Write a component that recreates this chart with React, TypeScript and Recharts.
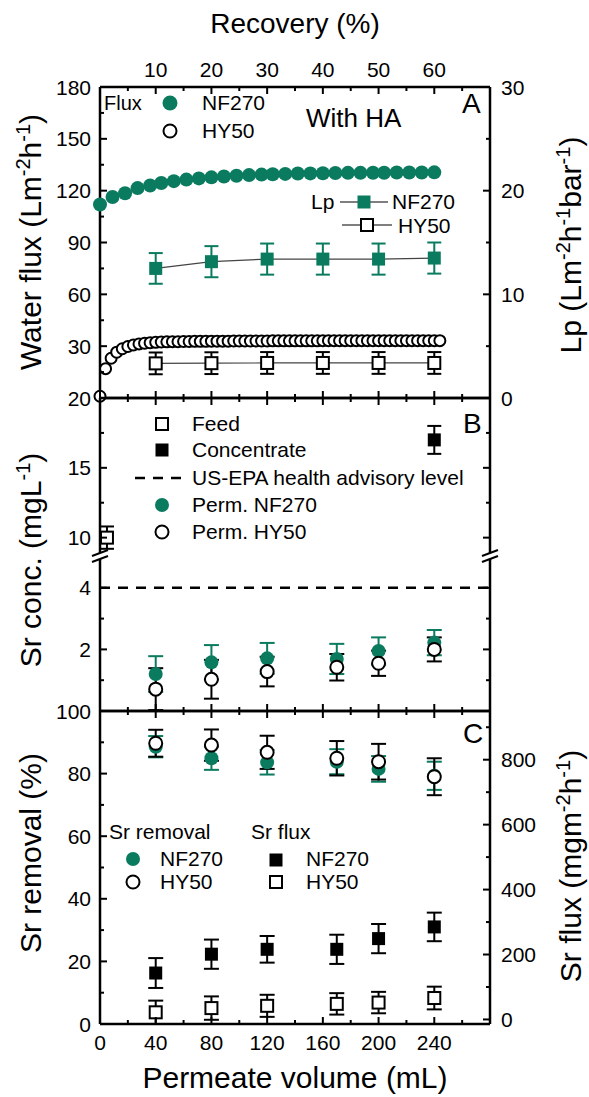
import React from "react";
import { ComposedChart, Scatter, Line, XAxis, YAxis, ErrorBar, ReferenceLine } from "recharts";

const W = 589;
const H = 1097;
const PL = 100;
const PR = 490;
const AX_H = 10;
const Y_W = 60;
const GREEN = "#0b7b60";
const FONT = "'Liberation Sans', Arial, Helvetica, sans-serif";
const AXIS = { stroke: "#000", strokeWidth: 2.5 };

// ---- panel A: water flux vs permeate volume ----
const fluxNfVol = [0, 9, 18, 27, 36, 44, 53, 62, 71, 80, 89, 98, 107, 116, 124, 133, 142, 151, 160, 169, 178, 187, 196, 204, 213, 222, 231, 240];
const fluxNf = [112, 116.3, 118.5, 121.5, 123, 124.4, 125.5, 126.4, 127.1, 127.7, 128.2, 128.6, 129, 129.3, 129.5, 129.7, 129.9, 130, 130.1, 130.2, 130.3, 130.3, 130.4, 130.4, 130.5, 130.5, 130.5, 130.6];
const fluxHyVol = [0, 4, 8, 12, 16, 20, 24, 28, 32, 36, 40, 44, 48, 52, 56, 60, 64, 68, 72, 76, 80, 84, 88, 92, 96, 100, 104, 108, 112, 116, 120, 124, 128, 132, 136, 140, 144, 148, 152, 156, 160, 164, 168, 172, 176, 180, 184, 188, 192, 196, 200, 204, 208, 212, 216, 220, 224, 228, 232, 236, 240, 244];
const fluxHy = [1, 17, 23, 26.5, 28.5, 29.8, 30.7, 31.3, 31.7, 32, 32.2, 32.4, 32.5, 32.6, 32.6, 32.7, 32.7, 32.8, 32.8, 32.8, 32.9, 32.9, 32.9, 32.9, 33, 33, 33, 33, 33, 33, 33, 33.1, 33.1, 33.1, 33.1, 33.1, 33.1, 33.1, 33.1, 33.1, 33.2, 33.2, 33.2, 33.2, 33.2, 33.2, 33.2, 33.2, 33.2, 33.2, 33.2, 33.2, 33.2, 33.2, 33.2, 33.2, 33.2, 33.2, 33.2, 33.2, 33.2, 33.2];
const lpVol = [40, 80, 120, 160, 200, 240];
const lpNf = [12.5, 13.15, 13.4, 13.4, 13.4, 13.5];
const lpNfErr = [1.48, 1.5, 1.5, 1.5, 1.5, 1.5];
const lpHy = [3.34, 3.36, 3.38, 3.38, 3.38, 3.38];
const lpHyErr = [1.05, 1.05, 1.05, 1.05, 1.05, 1.05];

// ---- panel B: Sr concentration ----
const feedVol = [5];
const feedConc = [10.0];
const feedErr = [0.8];
const concVol = [240];
const concConc = [17.0];
const concErr = [1.0];
const epaLevel = 4;
const sampleVol = [40, 80, 120, 170, 200, 240];
const permNf = [1.2, 1.58, 1.71, 1.69, 1.95, 2.22];
const permNfErr = [0.58, 0.56, 0.5, 0.49, 0.44, 0.41];
const permHy = [0.71, 1.03, 1.28, 1.42, 1.55, 2.0];
const permHyErr = [0.68, 0.63, 0.48, 0.43, 0.41, 0.39];

// ---- panel C: Sr removal and Sr flux ----
const removalNf = [88.6, 84.9, 83.6, 83.8, 81.5, 79.3];
const removalNfErr = [3.4, 3.7, 3.9, 4, 4.1, 4.5];
const removalHy = [89.7, 89.1, 86.8, 84.9, 83.8, 79.0];
const removalHyErr = [4.3, 5, 5.3, 5.5, 5.7, 5.9];
const srFluxNf = [143, 201, 216, 216, 249, 285];
const srFluxNfErr = [46, 45, 41, 45, 45, 44];
const srFluxHy = [22, 35, 42, 48, 52, 66];
const srFluxHyErr = [36, 36, 34, 33, 33, 35];

// ---- ticks ----
const volTicks = [0, 20, 40, 60, 80, 100, 120, 140, 160, 180, 200, 220, 240, 260];
const volMajors = [0, 40, 80, 120, 160, 200, 240];
// recovery (%) labels on the top axis, placed at the matching permeate volume
const recVol = [40, 80, 120, 160, 200, 240];
const recLabels = ["10", "20", "30", "40", "50", "60"];
const fluxTicks = [0, 15, 30, 45, 60, 75, 90, 105, 120, 135, 150, 165, 180];
const fluxLabels = [30, 60, 90, 120, 150, 180];
const lpTicks = [0, 5, 10, 15, 20, 25, 30];
const lpLabels = [0, 10, 20, 30];
const concHiTicks = [10, 12.5, 15, 17.5, 20];
const concHiLabels = [10, 15, 20];
const concLoTicks = [1, 2, 3, 4];
const concLoLabels = [2, 4];
const remTicks = [0, 10, 20, 30, 40, 50, 60, 70, 80, 90, 100];
const remLabels = [0, 20, 40, 60, 80, 100];
const srTicks = [0, 100, 200, 300, 400, 500, 600, 700, 800, 900];
const srLabels = [0, 200, 400, 600, 800];

const rows = (xs: number[], ys: number[], errs?: number[]) =>
  xs.map((x, i) => ({ x, y: ys[i], err: errs ? errs[i] : 0 }));

const margins = (top: number, bottom: number) => ({
  top: top - AX_H,
  bottom: H - bottom - AX_H,
  left: PL - Y_W,
  right: W - PR - Y_W,
});

type Side = "left" | "right" | "top" | "bottom";
function tickOf(side: Side, majors: number[], labels: number[] = [], texts?: string[]) {
  return (p: any) => {
    const v = Number(p.payload.value);
    const len = majors.includes(v) ? 7 : 4;
    const x = p.x;
    const y = p.y;
    let l = [x, y, x, y];
    let tx = x;
    let ty = y;
    let anchor = "middle";
    if (side === "left") { l = [x, y, x + len, y]; tx = x - 9; ty = y + 7.5; anchor = "end"; }
    else if (side === "right") { l = [x - len, y, x, y]; tx = x + 11; ty = y + 7.5; anchor = "start"; }
    else if (side === "bottom") { l = [x, y - len, x, y]; ty = y + 26; }
    else { l = [x, y, x, y + len]; ty = y - 10; }
    const i = labels.indexOf(v);
    return (
      <g>
        <line x1={l[0]} y1={l[1]} x2={l[2]} y2={l[3]} stroke="#000" strokeWidth={2} />
        {i >= 0 && (
          <text x={tx} y={ty} textAnchor={anchor} fontSize={21} fontFamily={FONT} fill="#000">{texts ? texts[i] : v}</text>
        )}
      </g>
    );
  };
}

const greenDot = (r: number) => (p: any) => <circle cx={p.cx} cy={p.cy} r={r} fill={GREEN} />;
const openDot = (r: number) => (p: any) => <circle cx={p.cx} cy={p.cy} r={r} fill="#fff" stroke="#000" strokeWidth={2} />;
const fillSq = (c: string) => (p: any) => <rect key={`f${p.index}`} x={p.cx - 6.5} y={p.cy - 6.5} width={13} height={13} fill={c} />;
const openSq = (p: any) => <rect key={`o${p.index}`} x={p.cx - 6} y={p.cy - 6} width={12} height={12} fill="#fff" stroke="#000" strokeWidth={2} />;

const layer: React.CSSProperties = { position: "absolute", left: 0, top: 0 };
const axisBits = { interval: 0, tickSize: 0, tickMargin: 0, axisLine: AXIS, tickLine: false } as any;
const noTick = { axisLine: false, tickLine: false, tick: false } as any;
const VOL = [0, 280];

export default function App() {
  return (
    <div style={{ position: "absolute", left: 0, top: 0, width: W, height: H, background: "#fff", fontFamily: FONT }}>
      {/* Panel A */}
      <div style={layer}>
        <ComposedChart width={W} height={H} margin={margins(87, 398)}>
          <XAxis xAxisId="b" dataKey="x" type="number" domain={VOL} ticks={volTicks} height={AX_H}
            {...axisBits} tick={tickOf("bottom", volMajors)} />
          <XAxis xAxisId="t" orientation="top" dataKey="x" type="number" domain={VOL} ticks={volTicks} height={AX_H}
            {...axisBits} tick={tickOf("top", volMajors, recVol, recLabels)} />
          <YAxis yAxisId="l" dataKey="y" type="number" domain={[0, 180]} ticks={fluxTicks} width={Y_W}
            {...axisBits} tick={tickOf("left", [0, ...fluxLabels], fluxLabels)} />
          <YAxis yAxisId="r" orientation="right" dataKey="y" type="number" domain={[0, 30]} ticks={lpTicks} width={Y_W}
            {...axisBits} tick={tickOf("right", lpLabels, lpLabels)} />
          <Scatter xAxisId="t" yAxisId="l" data={rows(fluxNfVol, fluxNf)} dataKey="y" shape={greenDot(7)} isAnimationActive={false} />
          <Scatter xAxisId="t" yAxisId="l" data={rows(fluxHyVol, fluxHy)} dataKey="y" shape={openDot(5.5)} isAnimationActive={false} />
          <Line xAxisId="b" yAxisId="r" data={rows(lpVol, lpNf, lpNfErr)} dataKey="y" stroke="#444" strokeWidth={1.2}
            dot={fillSq(GREEN)} activeDot={false} isAnimationActive={false}>
            <ErrorBar dataKey="err" direction="y" width={7} stroke={GREEN} strokeWidth={2} />
          </Line>
          <Line xAxisId="b" yAxisId="r" data={rows(lpVol, lpHy, lpHyErr)} dataKey="y" stroke="#444" strokeWidth={1.2}
            dot={openSq} activeDot={false} isAnimationActive={false}>
            <ErrorBar dataKey="err" direction="y" width={7} stroke="#000" strokeWidth={2} />
          </Line>
        </ComposedChart>
      </div>

      {/* Panel B, upper segment */}
      <div style={layer}>
        <ComposedChart width={W} height={H} margin={margins(398, 553)}>
          <XAxis xAxisId="b" dataKey="x" type="number" domain={VOL} height={AX_H} {...noTick} />
          <XAxis xAxisId="t" orientation="top" dataKey="x" type="number" domain={VOL} ticks={volTicks} height={AX_H}
            {...axisBits} tick={tickOf("top", volMajors)} />
          <YAxis yAxisId="l" dataKey="y" type="number" domain={[8.9, 20]} ticks={concHiTicks} width={Y_W}
            {...axisBits} tick={tickOf("left", concHiLabels, concHiLabels)} />
          <YAxis yAxisId="r" orientation="right" dataKey="y" type="number" domain={[8.9, 20]} ticks={concHiTicks} width={Y_W}
            {...axisBits} tick={tickOf("right", concHiLabels)} />
          <Scatter xAxisId="t" yAxisId="l" data={rows(feedVol, feedConc, feedErr)} dataKey="y" shape={openSq} isAnimationActive={false}>
            <ErrorBar dataKey="err" direction="y" width={7} stroke="#000" strokeWidth={2} />
          </Scatter>
          <Scatter xAxisId="b" yAxisId="r" data={rows(concVol, concConc, concErr)} dataKey="y" shape={fillSq("#000")} isAnimationActive={false}>
            <ErrorBar dataKey="err" direction="y" width={7} stroke="#000" strokeWidth={2} />
          </Scatter>
        </ComposedChart>
      </div>

      {/* Panel B, lower segment */}
      <div style={layer}>
        <ComposedChart width={W} height={H} margin={margins(557, 711)}>
          <XAxis xAxisId="b" dataKey="x" type="number" domain={VOL} ticks={volTicks} height={AX_H}
            {...axisBits} tick={tickOf("bottom", volMajors)} />
          <XAxis xAxisId="t" orientation="top" dataKey="x" type="number" domain={VOL} height={AX_H} {...noTick} />
          <YAxis yAxisId="l" dataKey="y" type="number" domain={[0, 5]} ticks={concLoTicks} width={Y_W}
            {...axisBits} tick={tickOf("left", concLoLabels, concLoLabels)} />
          <YAxis yAxisId="r" orientation="right" dataKey="y" type="number" domain={[0, 5]} ticks={concLoTicks} width={Y_W}
            {...axisBits} tick={tickOf("right", concLoLabels)} />
          <ReferenceLine xAxisId="b" yAxisId="l" y={epaLevel} stroke="#000" strokeWidth={2.5} strokeDasharray="10 8" />
          <Scatter xAxisId="b" yAxisId="l" data={rows(sampleVol, permNf, permNfErr)} dataKey="y" shape={greenDot(7)} isAnimationActive={false}>
            <ErrorBar dataKey="err" direction="y" width={7.5} stroke={GREEN} strokeWidth={2} />
          </Scatter>
          <Scatter xAxisId="t" yAxisId="r" data={rows(sampleVol, permHy, permHyErr)} dataKey="y" shape={openDot(6.5)} isAnimationActive={false}>
            <ErrorBar dataKey="err" direction="y" width={7.5} stroke="#000" strokeWidth={2} />
          </Scatter>
        </ComposedChart>
      </div>

      {/* Panel C */}
      <div style={layer}>
        <ComposedChart width={W} height={H} margin={margins(711, 1024)}>
          <XAxis xAxisId="b" dataKey="x" type="number" domain={VOL} ticks={volTicks} height={AX_H}
            {...axisBits} tick={tickOf("bottom", volMajors, volMajors)} />
          <XAxis xAxisId="t" orientation="top" dataKey="x" type="number" domain={VOL} ticks={volTicks} height={AX_H}
            {...axisBits} tick={tickOf("top", volMajors)} />
          <YAxis yAxisId="l" dataKey="y" type="number" domain={[0, 100]} ticks={remTicks} width={Y_W}
            {...axisBits} tick={tickOf("left", remLabels, remLabels)} />
          <YAxis yAxisId="r" orientation="right" dataKey="y" type="number" domain={[0, 950]} ticks={srTicks} width={Y_W}
            {...axisBits} tick={tickOf("right", srLabels, srLabels)} />
          <Scatter xAxisId="t" yAxisId="l" data={rows(sampleVol, removalNf, removalNfErr)} dataKey="y" shape={greenDot(7)} isAnimationActive={false}>
            <ErrorBar dataKey="err" direction="y" width={7.5} stroke={GREEN} strokeWidth={2} />
          </Scatter>
          <Scatter xAxisId="t" yAxisId="l" data={rows(sampleVol, removalHy, removalHyErr)} dataKey="y" shape={openDot(6.5)} isAnimationActive={false}>
            <ErrorBar dataKey="err" direction="y" width={7.5} stroke="#000" strokeWidth={2} />
          </Scatter>
          <Scatter xAxisId="b" yAxisId="r" data={rows(sampleVol, srFluxNf, srFluxNfErr)} dataKey="y" shape={fillSq("#000")} isAnimationActive={false}>
            <ErrorBar dataKey="err" direction="y" width={7.5} stroke="#000" strokeWidth={2} />
          </Scatter>
          <Scatter xAxisId="b" yAxisId="r" data={rows(sampleVol, srFluxHy, srFluxHyErr)} dataKey="y" shape={openSq} isAnimationActive={false}>
            <ErrorBar dataKey="err" direction="y" width={7.5} stroke="#000" strokeWidth={2} />
          </Scatter>
        </ComposedChart>
      </div>

      {/* titles, legends, axis break */}
      <svg width={W} height={H} style={{ ...layer, pointerEvents: "none" }} fontFamily={FONT} fill="#000">
        <text x={295} y={33} fontSize={28} textAnchor="middle">Recovery (%)</text>
        <text x={295} y={1088} fontSize={30} textAnchor="middle">Permeate volume (mL)</text>

        <text transform="translate(41,242) rotate(-90)" fontSize={30} textAnchor="middle">
          Water flux (Lm<tspan dy={-11} fontSize={20}>-2</tspan><tspan dy={11}>h</tspan><tspan dy={-11} fontSize={20}>-1</tspan><tspan dy={11}>)</tspan>
        </text>
        <text transform="translate(581,245) rotate(-90)" fontSize={30} textAnchor="middle">
          Lp (Lm<tspan dy={-11} fontSize={20}>-2</tspan><tspan dy={11}>h</tspan><tspan dy={-11} fontSize={20}>-1</tspan><tspan dy={11}>bar</tspan><tspan dy={-11} fontSize={20}>-1</tspan><tspan dy={11}>)</tspan>
        </text>
        <text transform="translate(41,560) rotate(-90)" fontSize={30} textAnchor="middle">
          Sr conc. (mgL<tspan dy={-11} fontSize={20}>-1</tspan><tspan dy={11}>)</tspan>
        </text>
        <text transform="translate(41,853) rotate(-90)" fontSize={30} textAnchor="middle">Sr removal (%)</text>
        <text transform="translate(581,866) rotate(-90)" fontSize={30} textAnchor="middle">
          Sr flux (mgm<tspan dy={-11} fontSize={20}>-2</tspan><tspan dy={11}>h</tspan><tspan dy={-11} fontSize={20}>-1</tspan><tspan dy={11}>)</tspan>
        </text>

        {/* panel A legend */}
        <text x={104} y={110} fontSize={20}>Flux</text>
        <circle cx={170} cy={103} r={7.5} fill={GREEN} />
        <text x={202} y={110} fontSize={21}>NF270</text>
        <circle cx={170} cy={131} r={6.5} fill="#fff" stroke="#000" strokeWidth={2} />
        <text x={202} y={138} fontSize={21}>HY50</text>
        <text x={306} y={127} fontSize={26}>With HA</text>
        <text x={462} y={113} fontSize={28}>A</text>
        <text x={311} y={209} fontSize={21}>Lp</text>
        <line x1={340} x2={388} y1={202} y2={202} stroke="#000" strokeWidth={1.2} />
        <rect x={357.5} y={195.5} width={13} height={13} fill={GREEN} />
        <text x={392} y={209} fontSize={21}>NF270</text>
        <line x1={342} x2={392} y1={225} y2={225} stroke="#000" strokeWidth={1.2} />
        <rect x={361} y={219} width={12} height={12} fill="#fff" stroke="#000" strokeWidth={2} />
        <text x={398} y={233} fontSize={21}>HY50</text>

        {/* panel B legend */}
        <rect x={156} y={418} width={12} height={12} fill="#fff" stroke="#000" strokeWidth={2} />
        <text x={192} y={431} fontSize={21}>Feed</text>
        <rect x={155.5} y={443.5} width={13} height={13} fill="#000" />
        <text x={192} y={457} fontSize={21}>Concentrate</text>
        <line x1={135} x2={184} y1={478} y2={478} stroke="#000" strokeWidth={2.5} strokeDasharray="10 8" />
        <text x={192} y={485} fontSize={21}>US-EPA health advisory level</text>
        <circle cx={162} cy={505} r={7} fill={GREEN} />
        <text x={192} y={512} fontSize={21}>Perm. NF270</text>
        <circle cx={162} cy={532} r={6.5} fill="#fff" stroke="#000" strokeWidth={2} />
        <text x={192} y={539} fontSize={21}>Perm. HY50</text>
        <text x={463} y={433} fontSize={28}>B</text>

        {/* panel C legend */}
        <text x={109} y={839} fontSize={21}>Sr removal</text>
        <text x={251} y={839} fontSize={21}>Sr flux</text>
        <circle cx={133} cy={859} r={7} fill={GREEN} />
        <text x={160} y={866} fontSize={21}>NF270</text>
        <circle cx={133} cy={882} r={6.5} fill="#fff" stroke="#000" strokeWidth={2} />
        <text x={160} y={889} fontSize={21}>HY50</text>
        <rect x={269.5} y={853.5} width={13} height={13} fill="#000" />
        <text x={306} y={866} fontSize={21}>NF270</text>
        <rect x={270} y={876} width={12} height={12} fill="#fff" stroke="#000" strokeWidth={2} />
        <text x={306} y={889} fontSize={21}>HY50</text>
        <text x={463} y={743} fontSize={28}>C</text>

        {/* axis break marks */}
        {[PL, PR].map((bx) => (
          <g key={bx}>
            <polygon points={`${bx - 8},${556} ${bx + 8},${550} ${bx + 8},${556} ${bx - 8},${562}`} fill="#fff" />
            <line x1={bx - 8} y1={556} x2={bx + 8} y2={550} stroke="#000" strokeWidth={2} />
            <line x1={bx - 8} y1={562} x2={bx + 8} y2={556} stroke="#000" strokeWidth={2} />
          </g>
        ))}
      </svg>
    </div>
  );
}
